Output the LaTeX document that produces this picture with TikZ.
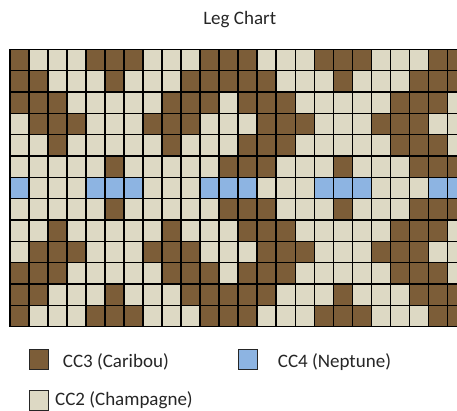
\documentclass[tikz,border=0pt]{standalone}
\usepackage{fontspec}
\setmainfont{Carlito}
\definecolor{colB}{RGB}{124,93,56}
\definecolor{colE}{RGB}{221,217,196}
\definecolor{colL}{RGB}{141,180,226}
\begin{document}
\begin{tikzpicture}[x=1pt,y=-1pt,
  lbl/.style={font=\fontsize{19}{22}\selectfont, text=black!85, inner sep=0pt, anchor=base west},
  sq/.style={draw=black!85, line width=0.9pt, minimum width=19pt, minimum height=20pt, inner sep=0pt},
  gridline/.style={line width=1.3pt, draw=black}]
\useasboundingbox (0,0) rectangle (457,411);
\fill[white] (0,0) rectangle (457,411);
\def\cw{19.01}\def\ch{21.34}\def\gx{10}\def\gy{49.3}
\begin{scope}
\clip (0,0) rectangle (457,411);
\foreach \rowpat [count=\r from 0] in {
 {B,E,E,E,B,B,B,E,E,E,B,B,B,E,E,E,B,B,B,E,E,E,B,B},
 {B,B,E,E,E,B,E,E,E,B,B,B,B,B,E,E,E,B,E,E,E,B,B,B},
 {B,B,B,E,E,E,E,E,B,B,B,E,B,B,B,E,E,E,E,E,B,B,B,E},
 {E,B,B,B,E,E,E,B,B,B,E,E,E,B,B,B,E,E,E,B,B,B,E,E},
 {E,E,B,E,E,E,E,E,B,E,E,E,B,B,B,E,E,E,E,E,B,B,B,E},
 {E,E,E,E,E,B,E,E,E,E,E,B,B,B,E,E,E,B,E,E,E,B,B,B},
 {L,E,E,E,L,L,L,E,E,E,L,L,L,E,E,E,L,L,L,E,E,E,L,L},
 {E,E,E,E,E,B,E,E,E,E,E,B,B,B,E,E,E,B,E,E,E,B,B,B},
 {E,E,B,E,E,E,E,E,B,E,E,E,B,B,B,E,E,E,E,E,B,B,B,E},
 {E,B,B,B,E,E,E,B,B,B,E,E,E,B,B,B,E,E,E,B,B,B,E,E},
 {B,B,B,E,E,E,E,E,B,B,B,E,B,B,B,E,E,E,E,E,B,B,B,E},
 {B,B,E,E,E,B,E,E,E,B,B,B,B,B,E,E,E,B,E,E,E,B,B,B},
 {B,E,E,E,B,B,B,E,E,E,B,B,B,E,E,E,B,B,B,E,E,E,B,B}}{
  \foreach \c [count=\k from 0] in \rowpat {
    \fill[col\c] ({\gx+\k*\cw},{\gy+\r*\ch}) rectangle ++(\cw,\ch);
  }
}
\foreach \k in {0,...,24}
  \draw[gridline] ({\gx+\k*\cw},\gy) -- ++(0,{13*\ch});
\foreach \r in {0,...,13}
  \draw[gridline] (\gx,{\gy+\r*\ch}) -- ++({24*\cw},0);
\end{scope}
\node[lbl, anchor=base] (title) at (239.7,25) {Leg Chart};
\node[sq, fill=colB] (kB) at (39.3,359.5) {};
\node[lbl] (tB) at (62.7,367) {CC3 (Caribou)};
\node[sq, fill=colL] (kL) at (248,359.5) {};
\node[lbl] (tL) at (277.7,367) {CC4 (Neptune)};
\node[sq, fill=colE] (kE) at (39.3,400.5) {};
\node[lbl] (tE) at (55,405.5) {CC2 (Champagne)};
\end{tikzpicture}
\end{document}
